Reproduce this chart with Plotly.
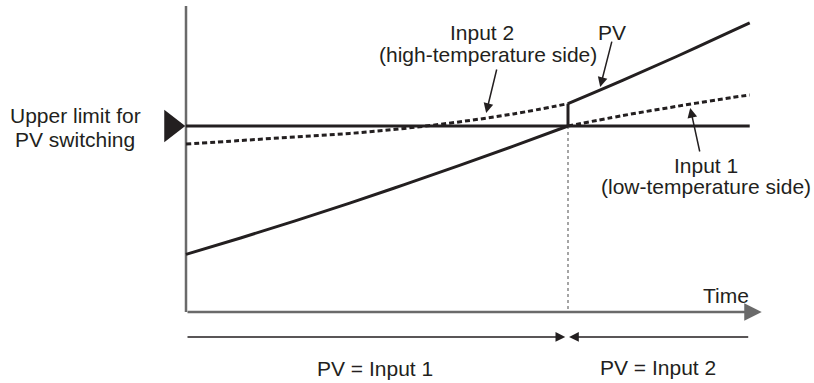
import plotly.graph_objects as go

# Time axis in arbitrary units; PV switches from input 1 to input 2 at t = 7
time_pre = [0, 1, 2, 3, 4, 5, 6, 7]
time_post = [7, 8, 9, 10, 10.33]

input1_pre = [31, 39.8, 49, 58.5, 68.5, 78.7, 89.2, 100]
input2_pre = [90.3, 92.2, 94.1, 96.0, 98.7, 102.2, 106.5, 112]
input1_post = [100, 105.6, 110.6, 115.3, 116.7]
input2_post = [112, 124.5, 137.5, 151, 155.5]

upper_limit = 100
t_switch = 7
t_end = 10.33
axis_top = 164.5
time_tip = 10.55
span_level = -13.4

INK = "#231f20"
AXIS = "#6a6a6a"
FONT = dict(family="Liberation Sans, Arial, sans-serif", size=21, color=INK)

fig = go.Figure()

# axes
fig.add_trace(go.Scatter(x=[0, 0], y=[0, axis_top], mode="lines",
                         line=dict(color=AXIS, width=2.5), hoverinfo="skip"))
# upper limit line
fig.add_trace(go.Scatter(x=[0, t_end], y=[upper_limit, upper_limit], mode="lines",
                         line=dict(color=INK, width=3), hoverinfo="skip"))
# switching marker
fig.add_trace(go.Scatter(x=[-0.27], y=[upper_limit], mode="markers",
                         marker=dict(symbol="triangle-right", size=28, color=INK),
                         hoverinfo="skip"))
# dotted switching time
fig.add_trace(go.Scatter(x=[t_switch, t_switch], y=[upper_limit, 0], mode="lines",
                         line=dict(color=AXIS, width=1.2, dash="dot"), hoverinfo="skip"))

# inputs that are not PV (dashed)
fig.add_trace(go.Scatter(x=time_pre, y=input2_pre, mode="lines",
                         line=dict(color=INK, width=3, dash="5px,3px", shape="spline"),
                         name="Input 2"))
fig.add_trace(go.Scatter(x=time_post, y=input1_post, mode="lines",
                         line=dict(color=INK, width=3, dash="5px,3px", shape="spline"),
                         name="Input 1"))

# PV (solid)
fig.add_trace(go.Scatter(x=time_pre, y=input1_pre, mode="lines",
                         line=dict(color=INK, width=3, shape="spline"), name="PV"))
fig.add_trace(go.Scatter(x=[t_switch, t_switch], y=[input1_pre[-1], input2_pre[-1]],
                         mode="lines", line=dict(color=INK, width=3), name="PV"))
fig.add_trace(go.Scatter(x=time_post, y=input2_post, mode="lines",
                         line=dict(color=INK, width=3, shape="spline"), name="PV"))


def arrow(x, y, ax, ay, color=INK, width=1.5, size=1.3):
    fig.add_annotation(x=x, y=y, ax=ax, ay=ay, xref="x", yref="y", axref="x", ayref="y",
                       text="", showarrow=True, arrowhead=2, arrowsize=size,
                       arrowwidth=width, arrowcolor=color)


def label(x, y, text):
    fig.add_annotation(x=x, y=y, xref="x", yref="y", text=text, showarrow=False,
                       font=FONT, align="center")


# time axis arrow
arrow(time_tip, 0, 0, 0, color=AXIS, width=2.5, size=1.4)

# pointer arrows
arrow(5.50, 107.0, 5.70, 131.2)
arrow(7.59, 121.0, 7.81, 146.2)
arrow(9.24, 109.7, 9.42, 85.5)

# span arrows under the time axis
arrow(t_switch - 0.05, span_level, 0, span_level)
arrow(t_switch + 0.02, span_level, t_end, span_level)

label(-2.03, 105.4, "Upper limit for")
label(-2.03, 92.5, "PV switching")
label(5.42, 150.5, "Input 2")
label(5.53, 138.7, "(high-temperature side)")
label(7.81, 150.5, "PV")
label(9.53, 79.0, "Input 1")
label(9.53, 67.7, "(low-temperature side)")
label(9.90, 9.1, "Time")
label(3.47, -30.6, "PV = Input 1")
label(8.65, -30.1, "PV = Input 2")

fig.update_layout(
    width=814, height=383, autosize=False,
    margin=dict(l=0, r=0, t=0, b=0),
    paper_bgcolor="white", plot_bgcolor="white",
    showlegend=False,
    xaxis=dict(range=[-3.4085, 11.508], visible=False, fixedrange=True),
    yaxis=dict(range=[-38.17, 167.74], visible=False, fixedrange=True),
)

fig.write_html("out.html", config={"displayModeBar": False},
               post_script="document.body.style.margin='0px';")
